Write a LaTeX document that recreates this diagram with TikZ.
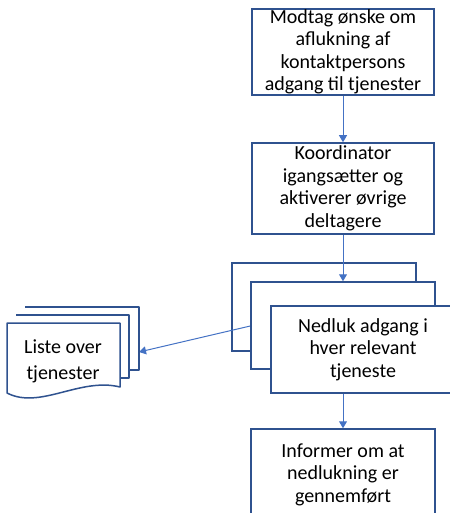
\documentclass[tikz,border=0pt]{standalone}
\usepackage{fontspec}
\setmainfont{Carlito}
\usetikzlibrary{arrows.meta}
\definecolor{boxblue}{HTML}{2F528F}
\definecolor{lineblue}{HTML}{4472C4}
\pgfdeclarelayer{bg}
\pgfsetlayers{bg,main}
\tikzset{
  stepbox/.style={draw=boxblue, line width=1.5pt, fill=white, rectangle, inner sep=0pt,
    align=center, font=\fontsize{20pt}{22.5pt}\selectfont},
  conn/.style={draw=lineblue, line width=1pt, -{Triangle[width=8pt,length=7pt]}},
  docpage/.style={draw=boxblue, line width=1.5pt, fill=white, line join=round}
}
\begin{document}
\begin{tikzpicture}[x=1pt,y=-1pt]
\useasboundingbox (0,0) rectangle (449,513);
\node[stepbox, minimum width=182pt, minimum height=86pt] (b1) at (343,52)
  {Modtag ønske om\\aflukning af\\kontaktpersons\\adgang til tjenester};
\node[stepbox, minimum width=182pt, minimum height=91pt] (b2) at (343,188.5)
  {Koordinator\\igangsætter og\\aktiverer øvrige\\deltagere};
\begin{pgfonlayer}{bg}
\node[stepbox, minimum width=184pt, minimum height=88pt] (back) at (324,307) {};
\end{pgfonlayer}
\node[stepbox, minimum width=184pt, minimum height=87pt] (mid) at (343,325.5) {};
\node[stepbox, minimum width=184pt, minimum height=87pt] (front) at (363,349.5)
  {Nedluk adgang i\\hver relevant\\tjeneste};
\node[stepbox, minimum width=184pt, minimum height=91pt] (b4) at (343,474.5)
  {Informer om at\\nedlukning er\\gennemført};
% document stack
\draw[docpage] (25,307) -- (139,307) -- (139,370) -- (129,370);
\draw[docpage] (16,315) -- (129,315) -- (129,378) -- (120,378);
\draw[docpage] (7,323) -- (120,323) -- (120,387)
  .. controls (80,377) and (40,410) .. (7,393) -- cycle;
\node[font=\fontsize{20pt}{26pt}\selectfont, align=center] (docf) at (63,361)
  {Liste over\\tjenester};
\coordinate (docs) at (139,352);
% connectors
\draw[conn] (b1.south) -- (b2.north);
\draw[conn] (b2.south) -- (mid.north);
\draw[conn] (b4.north |- front.south) -- (b4.north);
\begin{pgfonlayer}{bg}
\draw[conn] ([yshift=-0.5pt]mid.west) -- (docs);
\end{pgfonlayer}
\end{tikzpicture}
\end{document}
